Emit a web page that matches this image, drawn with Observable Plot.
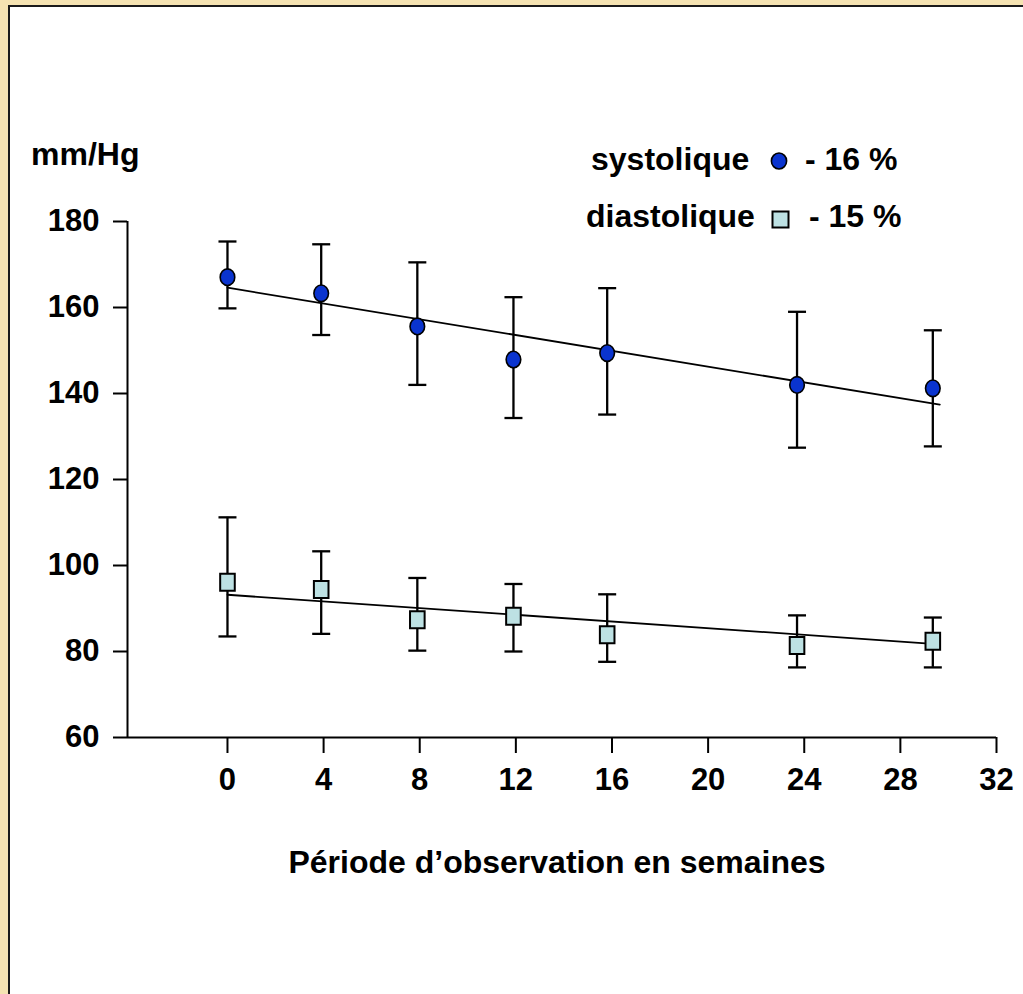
<!DOCTYPE html>
<html><head><meta charset="utf-8">
<script src="https://cdn.jsdelivr.net/npm/d3@7"></script>
<script src="https://cdn.jsdelivr.net/npm/@observablehq/plot@0.6"></script>
<style>
html,body{margin:0;padding:0;width:1023px;height:994px;overflow:hidden;background:#F5E3B2;}
#panel{position:absolute;left:8px;top:5px;width:1015px;height:989px;background:#fff;border-left:2px solid #1a1a1a;border-top:2px solid #1a1a1a;}
#chart{position:absolute;left:0;top:0;}
.t{position:absolute;font-family:"Liberation Sans",Arial,sans-serif;font-weight:bold;font-size:32px;color:#000;line-height:1;white-space:nowrap;}
.m{position:absolute;}
</style></head>
<body>
<div id="panel"></div>
<div id="chart"></div>
<div class="t" style="left:31px;top:138px;">mm/Hg</div>
<div class="t" style="left:591px;top:143px;">systolique</div>
<svg class="m" style="left:769px;top:151px;" width="21" height="21"><ellipse cx="10" cy="10" rx="7.6" ry="8" fill="#0A34CF" stroke="#000" stroke-width="1.6"/></svg>
<div class="t" style="left:805px;top:143px;">- 16 %</div>
<div class="t" style="left:586px;top:200px;">diastolique</div>
<svg class="m" style="left:770px;top:209px;" width="22" height="22"><rect x="2.5" y="2.5" width="16" height="16" fill="#BDE1E3" stroke="#000" stroke-width="2"/></svg>
<div class="t" style="left:809px;top:200px;">- 15 %</div>
<div class="t" style="left:557px;top:846px;transform:translateX(-50%);">Période d’observation en semaines</div>
<script>
// Data
const weeks    = [0, 3.9, 7.9, 11.9, 15.8, 23.7, 29.35];
const sysMean  = [167.05, 163.3, 155.6, 147.9, 149.4, 142.0, 141.2];
const sysHigh  = [175.35, 174.7, 170.5, 162.4, 164.5, 159.0, 154.7];
const sysLow   = [159.8, 153.6, 142.0, 134.3, 135.1, 127.4, 127.7];
const diaMean  = [96.1, 94.4, 87.4, 88.2, 83.9, 81.4, 82.4];
const diaHigh  = [111.2, 103.3, 97.1, 95.7, 93.3, 88.4, 87.9];
const diaLow   = [83.5, 84.1, 80.2, 80.0, 77.6, 76.3, 76.3];
const sysFitX  = [0, 29.64];
const sysFitY  = [164.6, 137.4];
const diaFitX  = [0, 29.05];
const diaFitY  = [93.2, 81.9];
const xTicks   = [0, 4, 8, 12, 16, 20, 24, 28, 32];
const yTicks   = [60, 80, 100, 120, 140, 160, 180];
const xStart   = -4.16;

const sys = weeks.map((w, i) => ({w, m: sysMean[i], hi: sysHigh[i], lo: sysLow[i]}));
const dia = weeks.map((w, i) => ({w, m: diaMean[i], hi: diaHigh[i], lo: diaLow[i]}));
const sysFit = sysFitX.map((x, i) => ({x, y: sysFitY[i]}));
const diaFit = diaFitX.map((x, i) => ({x, y: diaFitY[i]}));

const ellipseSym = {draw(c) {
  const rx = 7.3, ry = 8.3, k = 0.5523;
  c.moveTo(rx, 0);
  c.bezierCurveTo(rx, ry * k, rx * k, ry, 0, ry);
  c.bezierCurveTo(-rx * k, ry, -rx, ry * k, -rx, 0);
  c.bezierCurveTo(-rx, -ry * k, -rx * k, -ry, 0, -ry);
  c.bezierCurveTo(rx * k, -ry, rx, -ry * k, rx, 0);
  c.closePath();
}};
const rectSym = {draw(c) { c.rect(-7.3, -8.5, 14.6, 17); }};
const capSym = {draw(c) { c.moveTo(-9, 0); c.lineTo(9, 0); }};

const font = {fontSize: 31, fontWeight: "bold", fontFamily: "'Liberation Sans', Arial, sans-serif"};

const chart = Plot.plot({
  width: 1023,
  height: 994,
  marginLeft: 127,
  marginRight: 27,
  marginTop: 221,
  marginBottom: 257,
  style: {background: "transparent", color: "#000", fontFamily: "'Liberation Sans', Arial, sans-serif", fontSize: "31px", fontWeight: "bold"},
  x: {domain: [xStart, xTicks[xTicks.length - 1]]},
  y: {domain: [yTicks[0], yTicks[yTicks.length - 1]]},
  marks: [
    Plot.ruleX([xStart], {y1: yTicks[0], y2: yTicks[yTicks.length - 1], stroke: "#000", strokeWidth: 2}),
    Plot.ruleY([yTicks[0]], {x1: xStart, x2: xTicks[xTicks.length - 1], stroke: "#000", strokeWidth: 2}),
    Plot.axisX({ticks: xTicks, tickSize: 16, tickPadding: 14, label: null, strokeWidth: 2, ...font}),
    Plot.axisY({ticks: yTicks, tickSize: 14, tickPadding: 14, label: null, strokeWidth: 2, ...font}),
    Plot.line(sysFit, {x: "x", y: "y", stroke: "#000", strokeWidth: 1.8}),
    Plot.line(diaFit, {x: "x", y: "y", stroke: "#000", strokeWidth: 1.8}),
    Plot.ruleX(sys, {x: "w", y1: "lo", y2: "hi", stroke: "#000", strokeWidth: 2.3}),
    Plot.ruleX(dia, {x: "w", y1: "lo", y2: "hi", stroke: "#000", strokeWidth: 2.3}),
    Plot.dot(sys, {x: "w", y: "hi", symbol: capSym, fill: "none", stroke: "#000", strokeWidth: 2.3}),
    Plot.dot(sys, {x: "w", y: "lo", symbol: capSym, fill: "none", stroke: "#000", strokeWidth: 2.3}),
    Plot.dot(dia, {x: "w", y: "hi", symbol: capSym, fill: "none", stroke: "#000", strokeWidth: 2.3}),
    Plot.dot(dia, {x: "w", y: "lo", symbol: capSym, fill: "none", stroke: "#000", strokeWidth: 2.3}),
    Plot.dot(sys, {x: "w", y: "m", symbol: ellipseSym, fill: "#0A34CF", stroke: "#000", strokeWidth: 1.6}),
    Plot.dot(dia, {x: "w", y: "m", symbol: rectSym, fill: "#BDE1E3", stroke: "#000", strokeWidth: 2})
  ]
});
document.getElementById("chart").appendChild(chart);
</script>
</body></html>
